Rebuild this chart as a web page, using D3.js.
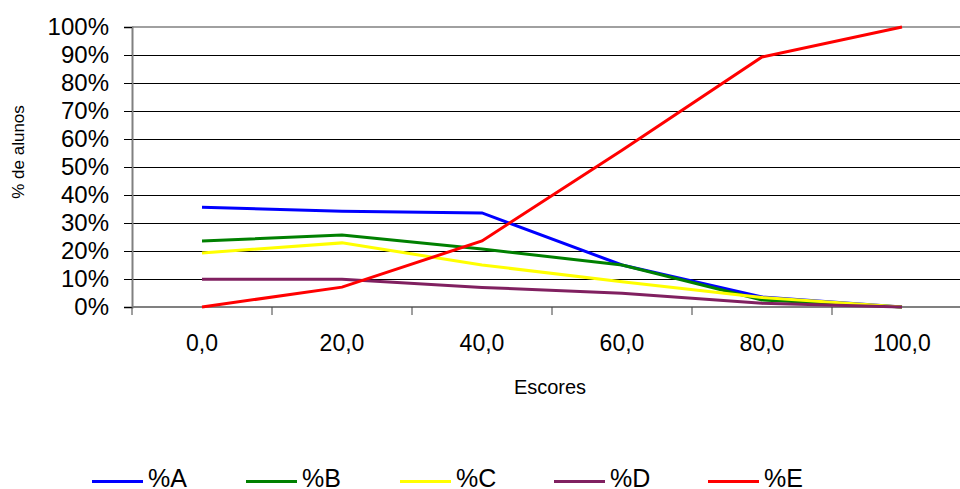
<!DOCTYPE html>
<html>
<head>
<meta charset="utf-8">
<script src="https://cdn.jsdelivr.net/npm/d3@7"></script>
<style>
  html, body { margin: 0; padding: 0; background: #fff; }
  svg { display: block; font-family: "Liberation Sans", Arial, sans-serif; }
</style>
</head>
<body>
<svg id="chart" width="960" height="489"></svg>
<script>
// Score bins on the x axis
const categories = ["0,0", "20,0", "40,0", "60,0", "80,0", "100,0"];

// Share of students (%) per answer option, one array per series
const pctA = [35.6, 34.2, 33.6, 15.0, 3.6, 0];
const pctB = [23.6, 25.7, 20.7, 15.0, 2.5, 0];
const pctC = [19.3, 22.9, 15.0, 9.0, 3.4, 0];
const pctD = [9.9, 9.9, 7.0, 4.9, 1.3, 0];
const pctE = [0, 7.1, 23.6, 56.0, 89.3, 100];

const seriesNames = ["%A", "%B", "%C", "%D", "%E"];
const yTicks = [0, 10, 20, 30, 40, 50, 60, 70, 80, 90, 100];

const series = [
  { name: seriesNames[0], values: pctA, color: "#0000ff" },
  { name: seriesNames[1], values: pctB, color: "#008000" },
  { name: seriesNames[2], values: pctC, color: "#ffff00" },
  { name: seriesNames[3], values: pctD, color: "#802060" },
  { name: seriesNames[4], values: pctE, color: "#ff0000" }
];

const svg = d3.select("#chart");
const plotLeft = 132, plotTop = 27, plotBottom = 307;

const x = d3.scaleBand().domain(categories).range([plotLeft, plotLeft + 140 * categories.length]).padding(0);
const y = d3.scaleLinear().domain([0, 100]).range([plotBottom, plotTop]);

// Horizontal gridlines
svg.append("g")
  .selectAll("line")
  .data(yTicks.filter(t => t > 0))
  .join("line")
  .attr("x1", plotLeft).attr("x2", 960)
  .attr("y1", d => y(d)).attr("y2", d => y(d))
  .attr("stroke", d => d === 100 ? "#a0a0a0" : "#000")
  .attr("stroke-width", d => d === 100 ? 2 : 1)
  .attr("shape-rendering", "crispEdges");

// Y axis
const yAxis = svg.append("g")
  .attr("transform", `translate(${plotLeft},0)`)
  .call(d3.axisLeft(y).tickValues(yTicks).tickFormat(d => d + "%").tickSize(8).tickPadding(15));
yAxis.select(".domain").attr("stroke", "#808080").attr("stroke-width", 2);
yAxis.selectAll(".tick line").attr("stroke", "#000");
yAxis.selectAll(".tick text")
  .attr("font-size", 24).attr("fill", "#000")
  .attr("font-family", "'Liberation Sans', Arial, sans-serif");

// X axis with ticks on band boundaries
const xAxis = svg.append("g").attr("transform", `translate(0,${plotBottom})`);
xAxis.append("line")
  .attr("x1", plotLeft).attr("x2", 960).attr("y1", 0).attr("y2", 0)
  .attr("stroke", "#808080").attr("stroke-width", 2);
xAxis.selectAll("line.tick")
  .data(categories.slice(1))
  .join("line")
  .attr("class", "tick")
  .attr("x1", d => x(d)).attr("x2", d => x(d))
  .attr("y1", 0).attr("y2", 8)
  .attr("stroke", "#404040").attr("stroke-width", 1);
xAxis.append("line")
  .attr("x1", plotLeft).attr("x2", plotLeft).attr("y1", 0).attr("y2", 8)
  .attr("stroke", "#404040");
xAxis.selectAll("text")
  .data(categories)
  .join("text")
  .attr("x", d => x(d) + x.bandwidth() / 2)
  .attr("y", 44)
  .attr("text-anchor", "middle")
  .attr("font-size", 23)
  .text(d => d);

// Axis titles
svg.append("text")
  .attr("x", 550).attr("y", 394)
  .attr("text-anchor", "middle")
  .attr("font-size", 20)
  .text("Escores");
svg.append("text")
  .attr("transform", `translate(18,152) rotate(-90)`)
  .attr("dy", "0.35em")
  .attr("text-anchor", "middle")
  .attr("font-size", 17)
  .text("% de alunos");

// Series lines
const line = d3.line()
  .x((d, i) => x(categories[i]) + x.bandwidth() / 2)
  .y(d => y(d));

svg.append("g")
  .selectAll("path")
  .data(series)
  .join("path")
  .attr("d", s => line(s.values))
  .attr("fill", "none")
  .attr("stroke", s => s.color)
  .attr("stroke-width", 3)
  .attr("stroke-linejoin", "miter");

// Legend
const legend = svg.append("g")
  .selectAll("g")
  .data(series)
  .join("g")
  .attr("transform", (s, i) => `translate(${92 + i * 154},0)`);
legend.append("line")
  .attr("x1", 0).attr("x2", 51).attr("y1", 481.5).attr("y2", 481.5)
  .attr("stroke", s => s.color).attr("stroke-width", 3);
legend.append("text")
  .attr("x", 56).attr("y", 487)
  .attr("font-size", 25)
  .text(s => s.name);
</script>
</body>
</html>
